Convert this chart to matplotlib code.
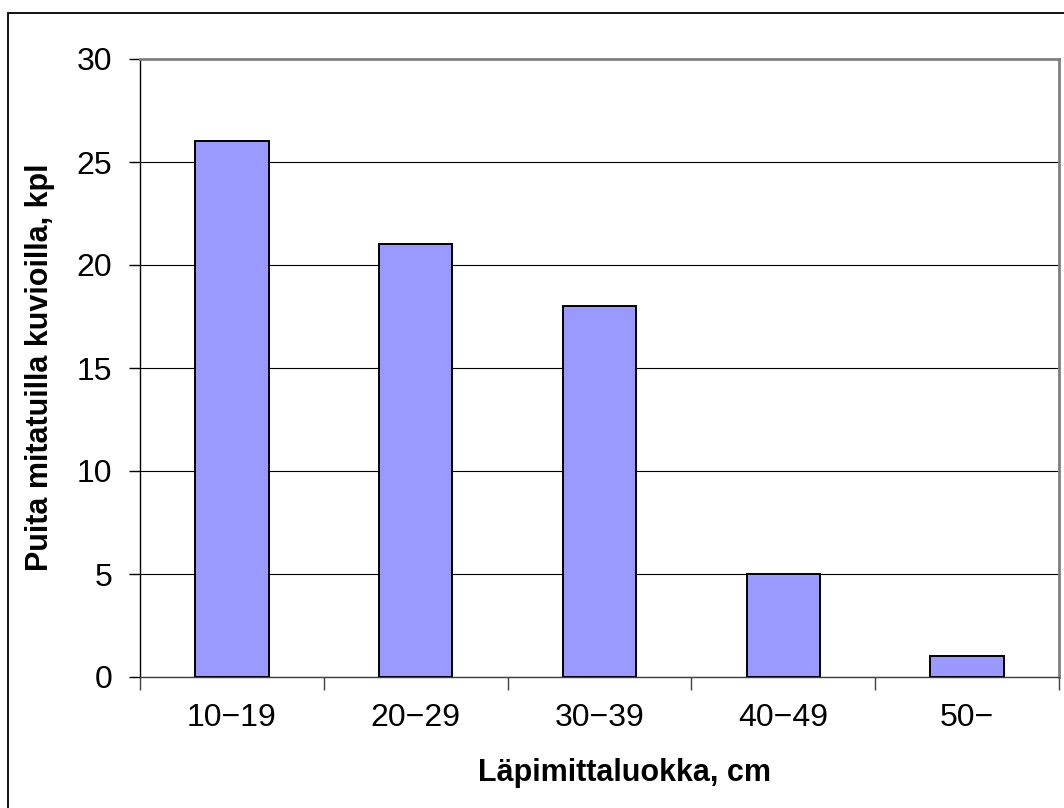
import matplotlib.pyplot as plt
from matplotlib.patches import Rectangle

# -------------------------
# DATA
# -------------------------
categories = ["10\u221219", "20\u221229", "30\u221239", "40\u221249", "50\u2212"]
tree_counts = [26, 21, 18, 5, 1]
y_ticks = [0, 5, 10, 15, 20, 25, 30]

plt.rcParams["font.family"] = ["Liberation Sans", "DejaVu Sans"]

W, H = 1064, 808
fig = plt.figure(figsize=(W / 100, H / 100), dpi=100)
fig.patch.set_facecolor("white")

# outer chart border (runs off the right and bottom edge)
fig.patches.append(Rectangle((8 / W, -0.05), 1.2, 1 - 13 / H + 0.05,
                             transform=fig.transFigure, fill=False,
                             edgecolor="black", linewidth=1.3, clip_on=False))

ax = fig.add_axes([140 / W, (H - 677) / H, 919 / W, 618 / H])

x = list(range(len(categories)))
ax.bar(x, tree_counts, width=0.4, color="#9999FF", edgecolor="black",
       linewidth=1.4, zorder=3)

ax.set_xlim(-0.5, len(categories) - 0.5)
ax.set_ylim(0, 30)
ax.set_yticks(y_ticks)
ax.set_yticklabels([str(v) for v in y_ticks])
ax.set_xticks(x)
ax.set_xticklabels(categories)
ax.set_xticks([i - 0.5 for i in range(len(categories) + 1)], minor=True)

ax.yaxis.grid(True, color="black", linewidth=0.8, zorder=0)
ax.set_axisbelow(True)

for side in ["top", "right"]:
    ax.spines[side].set_color("#808080")
    ax.spines[side].set_linewidth(2)
ax.spines["left"].set_color("black")
ax.spines["bottom"].set_color("#404040")
ax.spines["left"].set_linewidth(1)
ax.spines["bottom"].set_linewidth(1)

ax.tick_params(axis="y", direction="out", length=8, width=1, pad=12,
               labelsize=23, colors="black")
ax.tick_params(axis="x", which="major", length=0, pad=19, labelsize=23)
ax.tick_params(axis="x", which="minor", direction="out", length=9, width=1,
               color="#404040")

fig.text(625 / W, 1 - 773 / H, "Läpimittaluokka, cm", ha="center",
         va="center", fontsize=22, fontweight="bold")
fig.text(40 / W, 1 - 367 / H, "Puita mitatuilla kuvioilla, kpl", ha="center",
         va="center", rotation=90, fontsize=22, fontweight="bold")

fig.savefig("out.png", dpi=100, facecolor="white")
